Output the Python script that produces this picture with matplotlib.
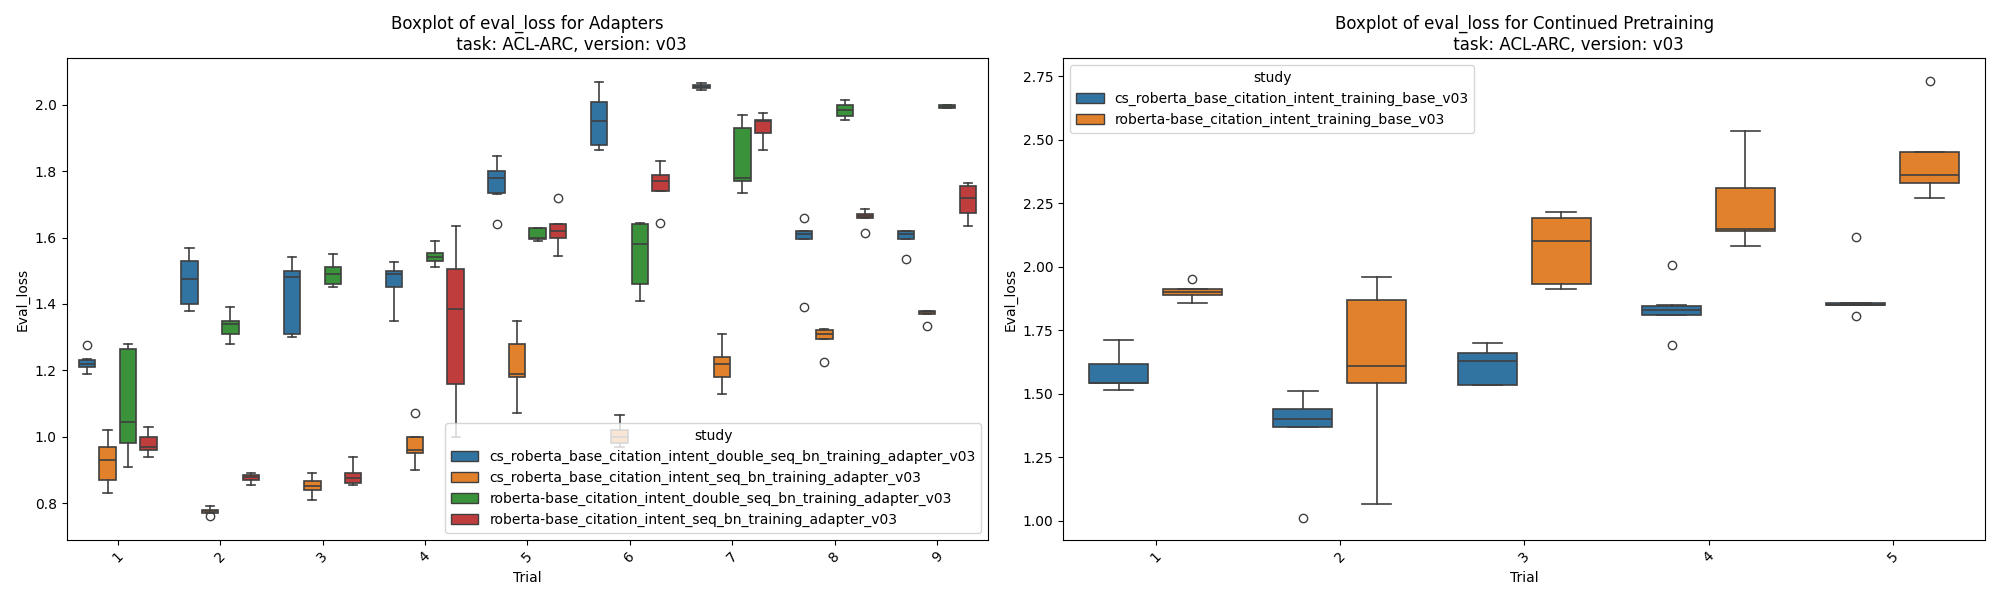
import matplotlib
matplotlib.use("Agg")
import matplotlib.pyplot as plt
from matplotlib.patches import Patch

colors = ["#3274a1", "#e1812c", "#3a923a", "#c03d3e"]
edge = "#3f3f3f"

left_studies = ["cs_roberta_base_citation_intent_double_seq_bn_training_adapter_v03",
                "cs_roberta_base_citation_intent_seq_bn_training_adapter_v03",
                "roberta-base_citation_intent_double_seq_bn_training_adapter_v03",
                "roberta-base_citation_intent_seq_bn_training_adapter_v03"]
left_trials = ["1", "2", "3", "4", "5", "6", "7", "8", "9"]
# (whislo, q1, med, q3, whishi, fliers) per trial per study
left_stats = [
    [(1.19, 1.21, 1.22, 1.23, 1.235, [1.275]), (0.83, 0.87, 0.93, 0.97, 1.02, []),
     (0.91, 0.98, 1.045, 1.265, 1.28, []), (0.94, 0.96, 0.97, 1.00, 1.03, [])],
    [(1.38, 1.40, 1.475, 1.53, 1.57, []), (0.77, 0.77, 0.775, 0.78, 0.79, [0.76]),
     (1.28, 1.31, 1.34, 1.35, 1.39, []), (0.855, 0.87, 0.88, 0.885, 0.89, [])],
    [(1.30, 1.31, 1.48, 1.50, 1.54, []), (0.81, 0.84, 0.85, 0.865, 0.89, []),
     (1.45, 1.46, 1.49, 1.51, 1.55, []), (0.855, 0.86, 0.875, 0.89, 0.94, [])],
    [(1.35, 1.45, 1.49, 1.50, 1.525, []), (0.90, 0.95, 0.96, 1.00, 1.00, [1.07]),
     (1.51, 1.53, 1.54, 1.555, 1.59, []), (1.00, 1.16, 1.385, 1.505, 1.635, [])],
    [(1.73, 1.735, 1.78, 1.80, 1.845, [1.64]), (1.07, 1.18, 1.19, 1.28, 1.35, []),
     (1.59, 1.595, 1.60, 1.63, 1.63, []), (1.545, 1.60, 1.62, 1.64, 1.64, [1.72])],
    [(1.865, 1.88, 1.95, 2.01, 2.07, []), (0.97, 0.98, 1.00, 1.02, 1.065, []),
     (1.41, 1.46, 1.58, 1.64, 1.645, []), (1.74, 1.74, 1.77, 1.79, 1.83, [1.645])],
    [(2.045, 2.05, 2.055, 2.06, 2.065, []), (1.13, 1.18, 1.22, 1.24, 1.31, []),
     (1.735, 1.77, 1.78, 1.93, 1.97, []), (1.865, 1.915, 1.95, 1.955, 1.975, [])],
    [(1.595, 1.595, 1.61, 1.62, 1.62, [1.66, 1.39]), (1.295, 1.295, 1.31, 1.32, 1.325, [1.225]),
     (1.955, 1.965, 1.985, 2.00, 2.015, []), (1.66, 1.66, 1.665, 1.67, 1.685, [1.615])],
    [(1.595, 1.595, 1.61, 1.62, 1.62, [1.535]), (1.37, 1.37, 1.375, 1.38, 1.38, [1.335]),
     (1.99, 1.99, 1.995, 2.00, 2.00, []), (1.635, 1.675, 1.72, 1.755, 1.765, [])],
]

right_studies = ["cs_roberta_base_citation_intent_training_base_v03",
                 "roberta-base_citation_intent_training_base_v03"]
right_trials = ["1", "2", "3", "4", "5"]
right_stats = [
    [(1.515, 1.54, 1.54, 1.615, 1.71, []), (1.855, 1.89, 1.90, 1.91, 1.91, [1.95])],
    [(1.37, 1.37, 1.40, 1.44, 1.51, [1.01]), (1.065, 1.54, 1.61, 1.87, 1.96, [])],
    [(1.535, 1.535, 1.63, 1.66, 1.70, []), (1.91, 1.93, 2.10, 2.19, 2.215, [])],
    [(1.81, 1.81, 1.83, 1.845, 1.85, [2.005, 1.69]), (2.08, 2.14, 2.15, 2.31, 2.535, [])],
    [(1.85, 1.85, 1.85, 1.855, 1.855, [2.115, 1.805]), (2.27, 2.33, 2.36, 2.45, 2.45, [2.73])],
]


def draw(ax, trials, studies, stats, title, legend_loc, ylim):
    n = len(studies)
    w = 0.8 / n
    for i, row in enumerate(stats):
        for j, s in enumerate(row):
            pos = i - 0.4 + w * (j + 0.5)
            d = dict(whislo=s[0], q1=s[1], med=s[2], q3=s[3], whishi=s[4], fliers=s[5])
            ax.bxp([d], positions=[pos], widths=w * 0.8, patch_artist=True,
                   boxprops=dict(facecolor=colors[j], edgecolor=edge, linewidth=1.2),
                   medianprops=dict(color=edge, linewidth=1.2),
                   whiskerprops=dict(color=edge, linewidth=1.2),
                   capprops=dict(color=edge, linewidth=1.2),
                   flierprops=dict(marker="o", markerfacecolor="none",
                                   markeredgecolor=edge, markersize=6),
                   manage_ticks=False)
    ax.set_xticks(range(len(trials)))
    ax.set_xticklabels(trials, rotation=45)
    ax.set_xlim(-0.5, len(trials) - 0.5)
    ax.set_ylim(*ylim)
    ax.set_xlabel("Trial")
    ax.set_ylabel("Eval_loss")
    ax.set_title(title)
    handles = [Patch(facecolor=colors[j], edgecolor=edge, label=studies[j]) for j in range(n)]
    ax.legend(handles=handles, title="study", loc=legend_loc)


fig, axes = plt.subplots(1, 2, figsize=(20, 6), dpi=100)
draw(axes[0], left_trials, left_studies, left_stats,
     "Boxplot of eval_loss for Adapters\n                 task: ACL-ARC, version: v03",
     "lower right", (0.69, 2.14))
draw(axes[1], right_trials, right_studies, right_stats,
     "Boxplot of eval_loss for Continued Pretraining\n                 task: ACL-ARC, version: v03",
     "upper left", (0.925, 2.82))
plt.tight_layout()
fig.savefig("out.png")
